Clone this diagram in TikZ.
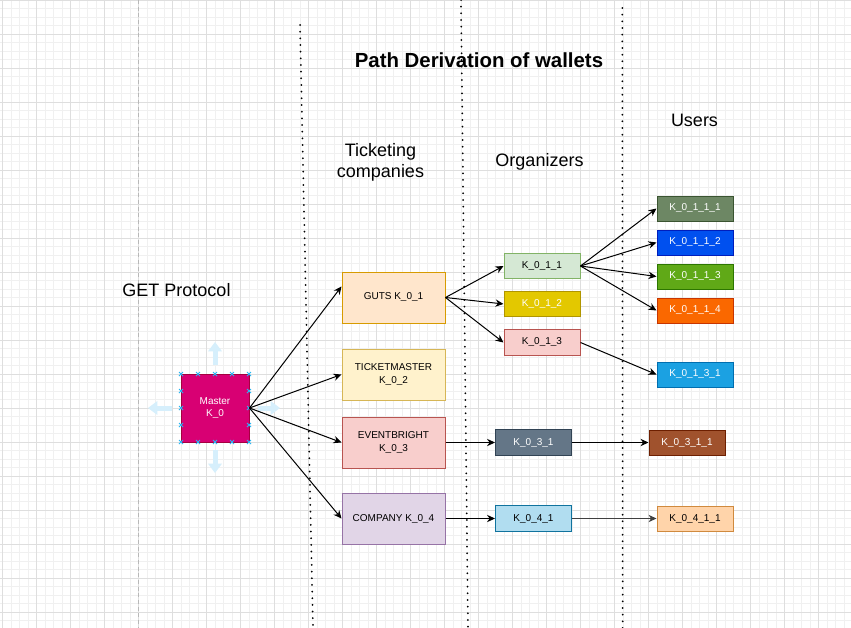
\documentclass[tikz,border=0pt]{standalone}
\usepackage{fontspec}
\setmainfont{Liberation Sans}
\usetikzlibrary{arrows.meta}
\definecolor{gridminor}{HTML}{F0F0F0}
\definecolor{gridmajor}{HTML}{DEDEDE}
\definecolor{pagebreak}{HTML}{B8B8B8}
\definecolor{hoverblue}{HTML}{D6EFFC}
\definecolor{handleblue}{HTML}{29B6F2}
\definecolor{masterfill}{HTML}{D80073}
\definecolor{masterline}{HTML}{A50040}
\definecolor{orangefill}{HTML}{FFE6CC}
\definecolor{orangeline}{HTML}{D79B00}
\definecolor{yellowfill}{HTML}{FFF2CC}
\definecolor{yellowline}{HTML}{D6B656}
\definecolor{redfill}{HTML}{F8CECC}
\definecolor{redline}{HTML}{B85450}
\definecolor{purplefill}{HTML}{E1D5E7}
\definecolor{purpleline}{HTML}{9673A6}
\definecolor{greenfill}{HTML}{D5E8D4}
\definecolor{greenline}{HTML}{82B366}
\definecolor{goldfill}{HTML}{E3C800}
\definecolor{goldline}{HTML}{B09500}
\definecolor{slatefill}{HTML}{647687}
\definecolor{slateline}{HTML}{314354}
\definecolor{skyfill}{HTML}{B1DDF0}
\definecolor{skyline}{HTML}{10739E}
\definecolor{olivefill}{HTML}{6D8764}
\definecolor{oliveline}{HTML}{3A5431}
\definecolor{bluefill}{HTML}{0050EF}
\definecolor{blueline}{HTML}{001DBC}
\definecolor{limefill}{HTML}{60A917}
\definecolor{limeline}{HTML}{2D7600}
\definecolor{tanfill}{HTML}{FA6800}
\definecolor{tanline}{HTML}{C73500}
\definecolor{cyanfill}{HTML}{1BA1E2}
\definecolor{cyanline}{HTML}{006EAF}
\definecolor{brownfill}{HTML}{A0522D}
\definecolor{brownline}{HTML}{6D1F00}
\definecolor{peachfill}{HTML}{FFD4AA}
\definecolor{peachline}{HTML}{D08A3E}

\begin{document}
\begin{tikzpicture}[x=0.75pt,y=-0.75pt,
    every node/.style={font=\fontsize{7.5}{9.5}\selectfont, align=center, inner sep=0pt},
    heading/.style={font=\fontsize{13.5}{16}\selectfont},
    company/.style={draw, line width=0.75pt, minimum width=77.25pt, minimum height=38.25pt},
    keybox/.style={draw, line width=0.75pt, minimum width=57pt, minimum height=19pt},
    userbox/.style={keybox, minimum height=18.75pt},
    link/.style={draw, line width=0.75pt, -{Stealth[length=6pt,width=5.5pt]}},
    divider/.style={line width=1.5pt, line cap=round, dash pattern=on 0pt off 5pt},
    hover/.style={draw=hoverblue, line width=3.75pt, -{Triangle[width=10pt,length=7pt]}},
    handle/.style={draw=handleblue, line width=0.6pt}]
    \useasboundingbox (0,0) rectangle (851,628);
    \fill [white] (0,0) rectangle (851,628);
    \foreach \i in {0,...,100} \draw [gridminor, line width=0.5pt] ({2.7+8.5*\i},0) -- ({2.7+8.5*\i},628);
    \foreach \i in {0,...,74} \draw [gridminor, line width=0.5pt] (0,{8.5*\i}) -- (851,{8.5*\i});
    \foreach \i in {0,...,25} \draw [gridmajor, line width=0.6pt] ({2.7+34*\i},0) -- ({2.7+34*\i},628);
    \foreach \i in {0,...,18} \draw [gridmajor, line width=0.6pt] (0,{34*\i}) -- (851,{34*\i});
    \draw [pagebreak, line width=0.75pt, dash pattern=on 3pt off 2pt] (138.7,0) -- (138.7,628);

    \draw [divider] (300,25) -- (313,628);
    \draw [divider] (461,0) -- (468,628);
    \draw [divider] (622.3,8) -- (622.7,628);

    \node (title) at (479,60) {\fontsize{15.3}{18}\selectfont\bfseries Path Derivation of wallets};
    \node [heading] (users) at (694.5,120) {Users};
    \node [heading] (ticketing) at (380.5,162.5) {Ticketing\\companies};
    \node [heading] (organizers) at (539.5,162) {Organizers};
    \node [heading] (get) at (176.5,290) {GET Protocol};

    \draw [hover] (215,365) -- (215,342);
    \draw [hover] (215,450) -- (215,473);
    \draw [hover] (172,408) -- (148,408);
    \draw [hover] (258,408) -- (280,408);

    \node [draw=masterline, fill=masterfill, text=white, line width=0.75pt, minimum size=51pt] (master) at (215,408) {Master\\K\_0};
    \foreach \u in {181,198,215,232,249} {
        \draw [handle] (\u-2,372) -- (\u+2,376) (\u-2,376) -- (\u+2,372);
        \draw [handle] (\u-2,440) -- (\u+2,444) (\u-2,444) -- (\u+2,440);
    }
    \foreach \v in {391,408,425} {
        \draw [handle] (179,\v-2) -- (183,\v+2) (179,\v+2) -- (183,\v-2);
        \draw [handle] (247,\v-2) -- (251,\v+2) (247,\v+2) -- (251,\v-2);
    }

    \node [company, draw=orangeline, fill=orangefill] (guts) at (393.5,297.5) {GUTS K\_0\_1};
    \node [company, draw=yellowline, fill=yellowfill] (ticketmaster) at (393.5,374.5) {TICKETMASTER\\K\_0\_2};
    \node [company, draw=redline, fill=redfill] (eventbright) at (393.5,442.5) {EVENTBRIGHT\\K\_0\_3};
    \node [company, draw=purpleline, fill=purplefill] (company) at (393.5,518.5) {COMPANY K\_0\_4};

    \node [keybox, draw=greenline, fill=greenfill] (k011) at (542,266) {K\_0\_1\_1};
    \node [keybox, draw=goldline, fill=goldfill, text=white] (k012) at (542,304) {K\_0\_1\_2};
    \node [keybox, draw=redline, fill=redfill] (k013) at (542,342.5) {K\_0\_1\_3};
    \node [keybox, draw=slateline, fill=slatefill, text=white] (k031) at (533.5,442.5) {K\_0\_3\_1};
    \node [keybox, draw=skyline, fill=skyfill] (k041) at (533.5,518.5) {K\_0\_4\_1};

    \node [userbox, draw=oliveline, fill=olivefill, text=white] (k0111) at (695,208.5) {K\_0\_1\_1\_1};
    \node [userbox, draw=blueline, fill=bluefill, text=white] (k0112) at (695,242.5) {K\_0\_1\_1\_2};
    \node [userbox, draw=limeline, fill=limefill, text=white] (k0113) at (695,276.5) {K\_0\_1\_1\_3};
    \node [userbox, draw=tanline, fill=tanfill, text=white] (k0114) at (695,310.5) {K\_0\_1\_1\_4};
    \node [userbox, draw=cyanline, fill=cyanfill, text=white] (k0131) at (695,374.5) {K\_0\_1\_3\_1};
    \node [userbox, draw=brownline, fill=brownfill, text=white] (k0311) at (687,442.5) {K\_0\_3\_1\_1};
    \node [userbox, draw=peachline, fill=peachfill] (k0411) at (695,518.5) {K\_0\_4\_1\_1};

    \draw [link] (master.east) -- (guts.168);
    \draw [link] (master.east) -- (ticketmaster.west);
    \draw [link] (master.east) -- (eventbright.west);
    \draw [link] (master.east) -- (company.west);
    \draw [link] (guts.east) -- (k011.west);
    \draw [link] (guts.east) -- (k012.west);
    \draw [link] (guts.east) -- (k013.west);
    \draw [link] (k011.east) -- (k0111.west);
    \draw [link] (k011.east) -- (k0112.west);
    \draw [link] (k011.east) -- (k0113.west);
    \draw [link] (k011.east) -- (k0114.west);
    \draw [link] (k013.east) -- (k0131.west);
    \draw [link] (eventbright.east) -- (k031.west);
    \draw [link] (k031.east) -- (k0311.west);
    \draw [link] (company.east) -- (k041.west);
    \draw [link, draw=black!75] (k041.east) -- (k0411.west);
\end{tikzpicture}
\end{document}
